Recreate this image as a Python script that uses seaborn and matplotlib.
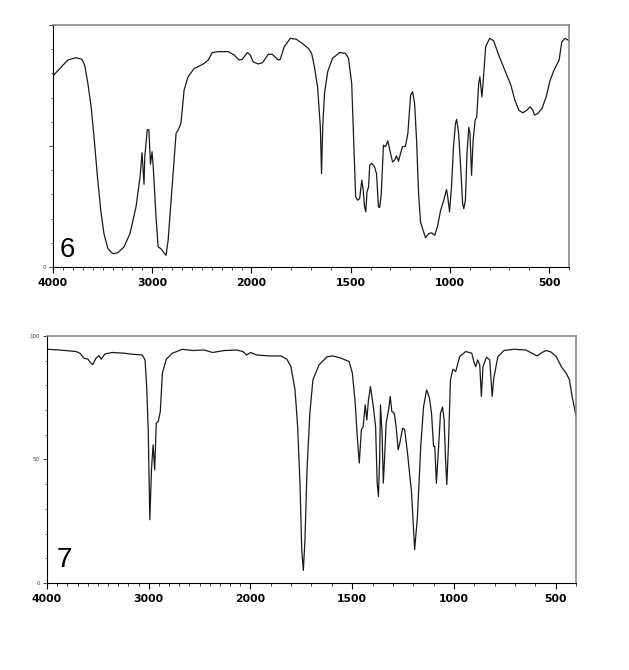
import numpy as np
import pandas as pd
import matplotlib
matplotlib.use("Agg")
import matplotlib.pyplot as plt
from matplotlib.ticker import FixedLocator, NullFormatter
import seaborn as sns

# ---- data: spectrum 6 (wavenumber cm-1, %T) ----
wn6 = [4000, 3931, 3851, 3770, 3709, 3681, 3649, 3616, 3584, 3552, 3519, 3487, 3447, 3398,
       3346, 3285, 3224, 3164, 3123, 3103, 3083, 3075, 3051, 3034, 3018, 3002, 2990, 2962,
       2941, 2913, 2881, 2861, 2840, 2800, 2760, 2739, 2711, 2679, 2639, 2578, 2517, 2477,
       2436, 2396, 2335, 2234, 2174, 2125, 2093, 2041, 2012, 1992, 1966, 1945, 1915, 1895,
       1865, 1855, 1835, 1804, 1774, 1744, 1713, 1697, 1683, 1667, 1653, 1647, 1641, 1632,
       1616, 1592, 1556, 1527, 1511, 1495, 1485, 1475, 1465, 1455, 1444, 1437, 1430, 1424,
       1418, 1410, 1404, 1394, 1380, 1370, 1360, 1354, 1346, 1335, 1325, 1313, 1299, 1289,
       1279, 1269, 1259, 1249, 1239, 1224, 1212, 1198, 1188, 1178, 1168, 1158, 1148, 1138,
       1123, 1107, 1091, 1077, 1063, 1047, 1031, 1017, 1011, 1002, 992, 982, 972, 966, 956,
       946, 936, 930, 922, 914, 905, 899, 891, 883, 873, 865, 855, 849, 839, 833, 820, 800,
       780, 754, 724, 693, 673, 653, 633, 612, 596, 582, 574, 558, 536, 515, 495, 475, 450,
       436, 420, 400]
t6 = [79, 82, 85.5, 86.5, 85.8, 83.4, 75.9, 66.2, 52.4, 37.2, 23.4, 13.8, 7.6, 5.5,
      5.9, 8.3, 13.8, 24.8, 37.2, 47.2, 34.2, 45.5, 56.6, 56.8, 42.5, 47.6, 41.4, 20.7,
      8.3, 7.6, 5.8, 4.8, 11, 33.1, 55.2, 56.6, 59.3, 73.1, 78.6, 82, 83.2, 84.1,
      85.5, 88.6, 89, 89, 87.6, 85.5, 85.8, 88.6, 87.6, 84.8, 83.9, 84.4, 87.9, 87.9,
      85.5, 85.8, 91, 94.5, 94.1, 92.4, 90.3, 88.3, 82.8, 74.5, 57.9, 38.6, 57.9, 71.7,
      80.7, 86.2, 88.6, 88.3, 86.2, 75.9, 52.4, 29, 27.6, 28.3, 35.9, 31.7, 24.8, 22.8,
      31, 33.1, 42.1, 42.8, 41.4, 38.6, 24.8, 24.6, 30.3, 50.3, 49.7, 52.1, 46.9, 43.4,
      44.1, 45.9, 43.7, 46.9, 49.7, 49.9, 55.2, 71, 72.4, 67.6, 52.4, 30.3, 18.6, 15.9,
      12.1, 13.8, 14.1, 13.1, 16.6, 23.4, 27.6, 32, 29, 22.8, 33.1, 49.7, 59.3, 61, 55.2,
      41.4, 26.2, 24.1, 27.6, 46.9, 57.7, 55.2, 37.9, 52.4, 60.7, 62, 75.9, 78.6, 70.3, 75.9, 91, 94.5,
      93.5, 87.6, 81.4, 75.2, 69, 64.8, 63.7, 64.8, 66.2, 64.8, 62.8, 63.4, 65.5, 70.3, 77.2, 81.4, 85.5,
      93.1, 94.5, 93.5]

# ---- data: spectrum 7 ----
wn7 = [4000, 3874, 3716, 3676, 3637, 3597, 3573, 3550, 3518, 3490, 3467, 3431, 3360, 3242,
       3163, 3064, 3036, 3020, 3005, 2989, 2973, 2957, 2941, 2926, 2906, 2886, 2866, 2827,
       2768, 2669, 2570, 2452, 2373, 2254, 2136, 2076, 2037, 1999, 1969, 1910, 1850, 1821,
       1801, 1781, 1768, 1756, 1748, 1740, 1732, 1722, 1708, 1693, 1663, 1623, 1594, 1554,
       1515, 1499, 1485, 1475, 1465, 1455, 1446, 1436, 1428, 1420, 1410, 1396, 1385, 1377,
       1371, 1365, 1361, 1353, 1347, 1341, 1333, 1321, 1313, 1305, 1293, 1284, 1274, 1266,
       1252, 1242, 1228, 1208, 1193, 1179, 1163, 1149, 1134, 1120, 1110, 1100, 1094, 1086,
       1076, 1066, 1056, 1048, 1041, 1035, 1027, 1017, 1005, 991, 972, 942, 912, 902, 893,
       883, 873, 865, 857, 840, 824, 812, 804, 784, 754, 705, 646, 616, 591, 567, 547, 523,
       497, 472, 448, 432, 419, 399]
t7 = [94.6, 94.3, 93.7, 93, 91, 90.6, 89.2, 88.4, 91, 92, 90.6, 92.7, 93.3, 93,
      92.6, 92.3, 90.3, 79.5, 62, 25.6, 45.8, 55.9, 45.8, 64.7, 65.4, 69.4, 84.9, 90.6,
      93, 94.6, 94.1, 94.3, 93.3, 94.1, 94.3, 93.7, 92.3, 93.3, 92.3, 91.9, 91.9, 90.6,
      87.6, 78.2, 63.3, 39.1, 13.5, 5.1, 17.5, 45.8, 68.7, 82.2, 88.3, 91.6, 91.9, 91,
      89.6, 84.9, 72.8, 59.3, 48.5, 62, 63.3, 72.1, 66, 74.1, 79.5, 71.4, 63.3, 40.4,
      35, 49.9, 72.1, 60.6, 40.4, 49.9, 64.7, 70.1, 75.5, 69.4, 68.7, 63.3, 53.9, 56.6,
      62.7, 62, 52.6, 36.4, 13.5, 27, 55.3, 71.4, 78.2, 74.8, 68.7, 55.3, 55.3, 40.4,
      53.9, 68.7, 71.2, 66, 49.9, 39.8, 55.3, 82.2, 86.5, 85.6, 91.6, 93.7, 93, 89.6, 87.6,
      90.3, 88.3, 75.5, 87.6, 91.4, 90.3, 75.5, 82.9, 91.6, 94.1, 94.6, 94.3, 93, 91.9, 93.3, 94.1, 93.5,
      91.6, 87.6, 84.9, 82.2, 75.5, 67.4]

major_x = [4000, 3000, 2000, 1500, 1000, 500]
major_x_labels = ["4000", "3000", "2000", "1500", "1000", "500"]
minor_x = list(range(4000, 399, -100))
panel_labels = ["6", "7"]

sns.set_style("ticks")
plt.rcParams["font.family"] = ["DejaVu Sans"]


def fwd(w):
    w = np.asarray(w, dtype=float)
    return np.where(w > 2000, 2000 + (w - 2000) / 2.0, w)


def inv(p):
    p = np.asarray(p, dtype=float)
    return np.where(p > 2000, 2000 + (p - 2000) * 2.0, p)


fig = plt.figure(figsize=(6.29, 6.70), dpi=100)
ax1 = fig.add_axes([0.0843, 0.6015, 0.8203, 0.3612])
ax2 = fig.add_axes([0.0747, 0.1299, 0.8410, 0.3687])

df6 = pd.DataFrame({"wn": wn6, "T": t6})
df7 = pd.DataFrame({"wn": wn7, "T": t7})

for ax, df, lab, ylabels, lpos in [
    (ax1, df6, panel_labels[0], ["0", "", ""], (0.012, 0.015)),
    (ax2, df7, panel_labels[1], ["0", "50", "100"], (0.018, 0.04)),
]:
    ax.set_xscale("function", functions=(fwd, inv))
    sns.lineplot(data=df, x="wn", y="T", ax=ax, color="#1a1a1a", linewidth=0.9,
                 estimator=None, sort=False)
    ax.set_xlim(4000, 400)
    ax.set_ylim(0, 100)
    ax.set_xlabel("")
    ax.set_ylabel("")
    ax.xaxis.set_major_locator(FixedLocator(major_x))
    ax.xaxis.set_minor_locator(FixedLocator(minor_x))
    ax.set_xticklabels(major_x_labels)
    ax.xaxis.set_minor_formatter(NullFormatter())
    ax.yaxis.set_major_locator(FixedLocator([0, 50, 100]))
    ax.yaxis.set_minor_locator(FixedLocator(list(range(0, 101, 10))))
    ax.set_yticklabels(ylabels)
    ax.tick_params(axis="x", which="major", direction="out", length=4, width=0.8,
                   pad=4, labelsize=7.8, colors="black")
    ax.tick_params(axis="x", which="minor", direction="out", length=2, width=0.6)
    ax.tick_params(axis="y", which="major", direction="out", length=3, width=0.6,
                   pad=2, labelsize=4, labelcolor="#444444")
    ax.tick_params(axis="y", which="minor", direction="out", length=1.5, width=0.5)
    for t in ax.get_xticklabels():
        t.set_fontweight("bold")
    for s in ["left", "bottom"]:
        ax.spines[s].set_color("black")
        ax.spines[s].set_linewidth(0.8)
    for s in ["top", "right"]:
        ax.spines[s].set_visible(True)
        ax.spines[s].set_color("#808080")
        ax.spines[s].set_linewidth(1.1)
    ax.text(lpos[0], lpos[1], lab, transform=ax.transAxes, fontsize=20,
            family=["Liberation Sans", "DejaVu Sans"], ha="left", va="bottom",
            color="black")

fig.savefig("out.png", dpi=100)
